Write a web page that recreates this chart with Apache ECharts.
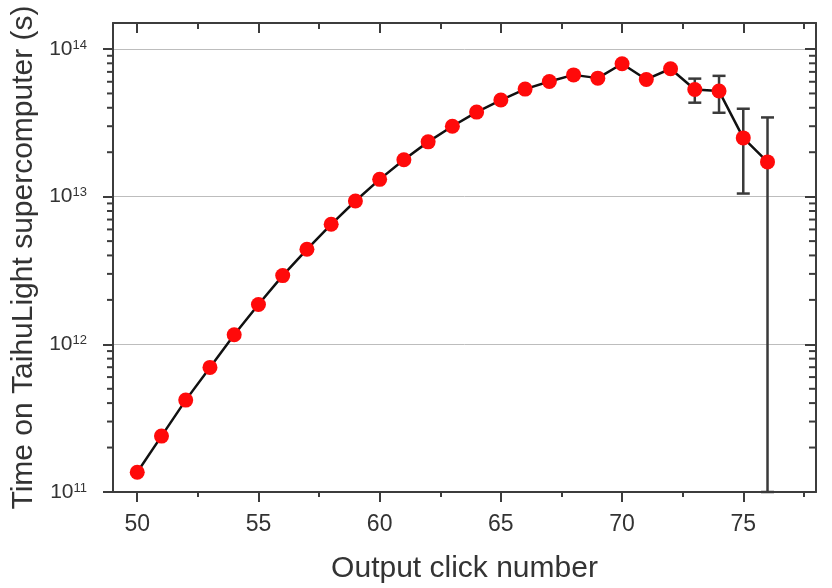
<!DOCTYPE html>
<html><head><meta charset="utf-8">
<script src="https://cdn.jsdelivr.net/npm/echarts@6/dist/echarts.min.js"></script>
<style>html,body{margin:0;padding:0;background:#fff}#c{width:832px;height:588px}</style>
</head><body><div id="c"></div>
<script>
const clickNumbers = [50,51,52,53,54,55,56,57,58,59,60,61,62,63,64,65,66,67,68,69,70,71,72,73,74,75,76];
const times = [1.36e11,2.39e11,4.19e11,6.98e11,1.16e12,1.86e12,2.92e12,4.4e12,6.5e12,9.35e12,1.31e13,1.78e13,2.35e13,3.0e13,3.74e13,4.51e13,5.35e13,6.03e13,6.68e13,6.35e13,7.94e13,6.22e13,7.35e13,5.32e13,5.19e13,2.5e13,1.72e13];
const errClicks = [73,74,75,76];
const errHigh = [6.3e13,6.58e13,3.94e13,3.44e13];
const errLow = [4.33e13,3.7e13,1.05e13,1e11];
const xTickLabels = [50,55,60,65,70,75];
const xMinorTicks = [52.5,57.5,62.5,67.5,72.5,77.5];
const yDecades = [1e11,1e12,1e13];
const yMinorMultipliers = [2,3,4,5,6,7,8,9];
const xMin = 49, xMax = 78, yMin = 1e11, yMax = 1.5e14;

const yMinorTicks = [];
yDecades.forEach(d => yMinorMultipliers.forEach(m => { if (d*m < yMax) yMinorTicks.push(d*m); }));

const FONT = 'Liberation Sans';
const TXT = '#333';
const AX = '#3c3c3c';

const chart = echarts.init(document.getElementById('c'), null, {renderer:'canvas'});

const baseX = {type:'value', min:xMin, max:xMax, splitLine:{show:false}, axisLabel:{show:false}, axisTick:{show:false}, axisLine:{show:false}};
const baseY = {type:'log', logBase:10, min:yMin, max:yMax, splitLine:{show:false}, axisLabel:{show:false}, axisTick:{show:false}, axisLine:{show:false}};

chart.setOption({
  animation:false,
  backgroundColor:'#fff',
  grid:{left:113, right:16, top:23, bottom:96, containLabel:false, outerBoundsMode:'none'},
  xAxis:[
    Object.assign({}, baseX, {
      position:'bottom',
      name:'Output click number', nameLocation:'middle', nameGap:62,
      nameTextStyle:{fontSize:30, color:TXT, fontFamily:FONT},
      axisLine:{show:true, lineStyle:{color:AX, width:2}},
      axisTick:{show:true, inside:false, length:10, customValues:xTickLabels, lineStyle:{color:AX, width:2}},
      axisLabel:{show:true, margin:21, fontSize:23, color:TXT, fontFamily:FONT, customValues:xTickLabels}
    }),
    Object.assign({}, baseX, {
      position:'bottom',
      axisTick:{show:true, inside:false, length:5, customValues:xMinorTicks, lineStyle:{color:AX, width:2}}
    }),
    Object.assign({}, baseX, {
      position:'top',
      axisLine:{show:true, lineStyle:{color:AX, width:2}},
      axisTick:{show:true, inside:true, length:10, customValues:xTickLabels, lineStyle:{color:AX, width:2}}
    }),
    Object.assign({}, baseX, {
      position:'top',
      axisTick:{show:true, inside:true, length:6, customValues:xMinorTicks, lineStyle:{color:AX, width:2}}
    })
  ],
  yAxis:[
    Object.assign({}, baseY, {
      position:'left',
      name:'Time on TaihuLight supercomputer (s)', nameLocation:'middle', nameGap:66,
      nameTextStyle:{fontSize:30, color:TXT, fontFamily:FONT},
      axisLine:{show:true, lineStyle:{color:AX, width:2}},
      axisTick:{show:true, inside:false, length:10, lineStyle:{color:AX, width:2}},
      splitLine:{show:true, lineStyle:{color:'#bdbdbd', width:1}},
      axisLabel:{show:true, margin:26, showMaxLabel:false,
        formatter:function(v){
          const e = Math.log10(v); const r = Math.round(e);
          if (Math.abs(e - r) > 1e-6) return '';
          return '{b|10}{s|' + r + '}';
        },
        rich:{
          b:{fontSize:21, color:TXT, fontFamily:FONT},
          s:{fontSize:13, color:TXT, fontFamily:FONT, verticalAlign:'top'}
        }
      }
    }),
    Object.assign({}, baseY, {
      position:'right',
      axisLine:{show:true, lineStyle:{color:AX, width:2}},
      axisTick:{show:true, inside:true, length:11, lineStyle:{color:AX, width:2}}
    })
  ],
  series:[
    {
      type:'custom', name:'yMinorTicks', xAxisIndex:0, yAxisIndex:0, silent:true, z:5,
      data: yMinorTicks.map(v => [xMin, v]),
      encode:{x:0, y:1},
      renderItem:function(params, api){
        const cs = params.coordSys;
        const p = api.coord([api.value(0), api.value(1)]);
        const st = {stroke:AX, lineWidth:2};
        return {type:'group', children:[
          {type:'line', shape:{x1:cs.x-6, y1:p[1], x2:cs.x, y2:p[1]}, style:st},
          {type:'line', shape:{x1:cs.x+cs.width-7, y1:p[1], x2:cs.x+cs.width, y2:p[1]}, style:st}
        ]};
      }
    },
    {
      type:'custom', name:'errors', xAxisIndex:0, yAxisIndex:0, silent:true, z:3,
      data: errClicks.map((x,i) => [x, errLow[i], errHigh[i]]),
      encode:{x:0, y:[1,2]},
      renderItem:function(params, api){
        const x = api.value(0);
        const pL = api.coord([x, api.value(1)]);
        const pH = api.coord([x, api.value(2)]);
        const hw = 6.5;
        const st = {stroke:'#3a3a3a', lineWidth:2.5};
        return {type:'group', children:[
          {type:'line', shape:{x1:pH[0], y1:pH[1], x2:pL[0], y2:pL[1]}, style:st},
          {type:'line', shape:{x1:pH[0]-hw, y1:pH[1], x2:pH[0]+hw, y2:pH[1]}, style:st},
          {type:'line', shape:{x1:pL[0]-hw, y1:pL[1], x2:pL[0]+hw, y2:pL[1]}, style:st}
        ]};
      }
    },
    {
      type:'line', name:'time', xAxisIndex:0, yAxisIndex:0, z:4,
      data: clickNumbers.map((x,i) => [x, times[i]]),
      symbol:'circle', symbolSize:15,
      lineStyle:{color:'#111', width:2.5},
      itemStyle:{color:'#ff0a0a', borderWidth:0},
      silent:true
    }
  ]
});
</script></body></html>
